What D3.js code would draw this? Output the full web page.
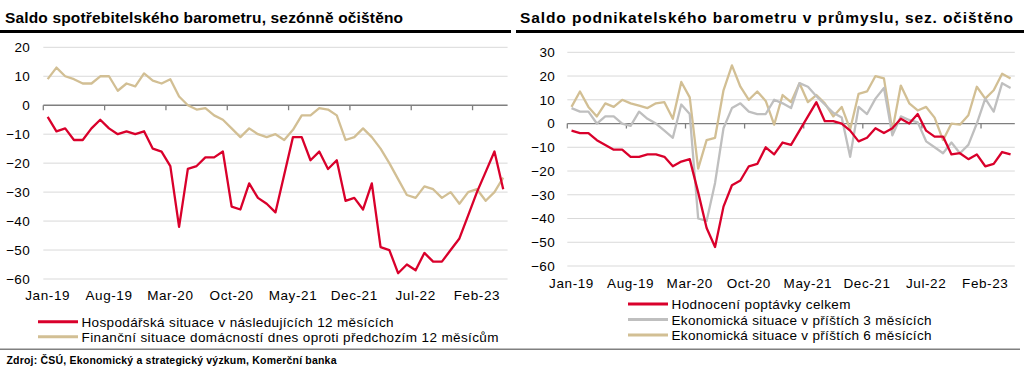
<!DOCTYPE html>
<html><head><meta charset="utf-8">
<script src="https://cdn.jsdelivr.net/npm/d3@7"></script>
<style>
body{margin:0;background:#fff}
svg{display:block}
text{font-family:"Liberation Sans",Arial,sans-serif;fill:#000}
</style>
</head><body>
<svg id="c" width="1024" height="375"></svg>
<script>
const months = ["2019-01","2019-02","2019-03","2019-04","2019-05","2019-06","2019-07","2019-08","2019-09","2019-10","2019-11","2019-12",
"2020-01","2020-02","2020-03","2020-04","2020-05","2020-06","2020-07","2020-08","2020-09","2020-10","2020-11","2020-12",
"2021-01","2021-02","2021-03","2021-04","2021-05","2021-06","2021-07","2021-08","2021-09","2021-10","2021-11","2021-12",
"2022-01","2022-02","2022-03","2022-04","2022-05","2022-06","2022-07","2022-08","2022-09","2022-10","2022-11","2022-12",
"2023-01","2023-02","2023-03","2023-04","2023-05"];
const tickMonths = ["2019-01","2019-08","2020-03","2020-10","2021-05","2021-12","2022-07","2023-02"];
const tickLabels = ["Jan-19","Aug-19","Mar-20","Oct-20","May-21","Dec-21","Jul-22","Feb-23"];

// Consumer barometer
const consEcon = [-4,-9,-8,-12,-12,-8,-5,-8,-10,-9,-10,-9,-15,-16,-21,-42,-22,-21,-18,-18,-16,-35,-36,-27,-32,-34,-37,-24,-11,-11,-19,-16,-22,-19,-33,-32,-36,-27,-49,-50,-58,-55,-57,-51,-54,-54,-50,-46,-38,-30,-23,-16,-29];
const consFin = [9,13,10,9,7.5,7.5,10,10,5,7.5,6.5,11,8.5,7.5,9,3,0,-1.5,-1,-3.5,-5,-8,-11,-8,-10,-11,-10,-12,-8.5,-3.5,-3.5,-1,-1.5,-3.5,-12,-11,-8,-11,-15,-20,-25.5,-31,-32,-28,-29,-32,-30,-34,-30,-29,-33,-30,-25];
const consNames = ["Hospodářská situace v následujících 12 měsících","Finanční situace domácností dnes oproti předchozím 12 měsícům"];
const consTicks = [20,10,0,-10,-20,-30,-40,-50,-60];

// Industry barometer
const indDemand = [-3,-4,-4,-7,-9,-11,-11,-14,-14,-13,-13,-14,-18,-16,-15,-29,-44,-52,-35,-26,-24,-18,-17,-10,-13,-8,-9,-3,3,9,1,1,0,-3,-7.5,-6,-2,-4,-2,2,0,4,-3,-5.5,-5.5,-13,-12.5,-15,-13,-18,-17,-12,-13];
const indEcon3 = [6.5,5,5,0,3,3,0,-1,5,2,0,-3,-6,8,4,-40,-41,-25,-2,6.5,8.5,5,4,4,10,8.5,6.5,17,15.5,11.5,8,4.5,2.5,-14,7,4,10.5,15,-5,3,1.5,0.5,-7.5,-10,-12.5,-8,-12.5,-9,0,10.5,5,17,15];
const indEcon6 = [7,13.5,7,3,8.5,7,10,8.5,7.5,6.5,8.5,9,2,17.5,11,-19,-7,-6,14,24.5,15.5,10,13.5,9.5,-0.5,12,9,17,9,12,8.5,3,7,-2.5,12.5,13.5,20,19,-3,16,8.5,5.5,7,2.5,-7,0,-0.5,3.5,15.5,10.5,14,21,19];
const indNames = ["Hodnocení poptávky celkem","Ekonomická situace v příštích 3 měsících","Ekonomická situace v příštích 6 měsících"];
const indTicks = [30,20,10,0,-10,-20,-30,-40,-50,-60];

const RED = "#d9002b", TAN = "#d2bf94", GRAY = "#bfbfbf";
const svg = d3.select("#c");

function panel(cfg){
  const g = svg.append("g");
  const x = d3.scaleBand().domain(months).range(cfg.xr).padding(0);
  const y = d3.scaleLinear().domain([d3.min(cfg.ticks), d3.max(cfg.ticks)]).range(cfg.yr);
  const bw = x.bandwidth();
  g.selectAll("line.grid").data(cfg.ticks.filter(t=>t!==0)).join("line")
    .attr("x1", cfg.xr[0]).attr("x2", cfg.xr[1])
    .attr("y1", d=>y(d)).attr("y2", d=>y(d))
    .attr("stroke", "#d9d9d9").attr("stroke-width", 1);
  const ya = d3.axisLeft(y).tickValues(cfg.ticks).tickSize(0).tickPadding(0).tickFormat(d3.format("d"));
  const yg = g.append("g").attr("transform", `translate(${cfg.ylab},0)`).call(ya);
  yg.select(".domain").remove();
  yg.selectAll("text").attr("font-size", 13.5).attr("letter-spacing", 0.3)
    .attr("font-family", "Liberation Sans, Arial, sans-serif").attr("fill","#000");
  const y0 = y(0);
  g.append("line").attr("x1", cfg.xr[0]).attr("x2", cfg.xr[1]).attr("y1", y0).attr("y2", y0)
    .attr("stroke", "#7f7f7f").attr("stroke-width", 1.3);
  g.selectAll("line.tk").data(tickMonths).join("line")
    .attr("x1", d=>x(d)).attr("x2", d=>x(d)).attr("y1", y0).attr("y2", y0+5)
    .attr("stroke", "#7f7f7f").attr("stroke-width", 1.3);
  g.selectAll("text.xl").data(tickMonths).join("text")
    .attr("x", d=>x(d)+bw/2).attr("y", cfg.xlabY)
    .attr("text-anchor", "middle").attr("font-size", 13.5).attr("letter-spacing", 0.6)
    .text((d,i)=>tickLabels[i]);
  const line = d3.line().x((d,i)=>x(months[i])+bw/2).y(d=>y(d));
  cfg.series.forEach(s=>{
    g.append("path").attr("d", line(s.values)).attr("fill","none")
      .attr("stroke", s.color).attr("stroke-width", 2.3).attr("stroke-linejoin","round");
  });
  cfg.series.slice().sort((a,b)=>a.order-b.order).forEach((s,i)=>{
    const ly = cfg.legY + i*cfg.legStep;
    g.append("line").attr("x1", cfg.legX).attr("x2", cfg.legX+40).attr("y1", ly).attr("y2", ly)
      .attr("stroke", s.color).attr("stroke-width", 3);
    g.append("text").attr("x", cfg.legX+43.5).attr("y", ly+5).attr("font-size", 13.5)
      .attr("textLength", s.len).attr("lengthAdjust","spacing").text(s.name);
  });
  g.append("text").attr("x", cfg.titleX).attr("y", 23).attr("font-size", 15.5).attr("font-weight","bold")
    .attr("textLength", cfg.titleLen).attr("lengthAdjust","spacing").text(cfg.title);
  g.append("rect").attr("x", cfg.ruleX[0]).attr("y", 30).attr("width", cfg.ruleX[1]-cfg.ruleX[0]).attr("height", 3).attr("fill","#000");
}

panel({
  xr:[43.3,507.6], yr:[279,47.3], ticks:consTicks, ylab:30, xlabY:300,
  series:[{values:consFin,color:TAN,name:consNames[1],order:1,len:417},{values:consEcon,color:RED,name:consNames[0],order:0,len:312}],
  legX:38, legY:321.7, legStep:15,
  title:"Saldo spotřebitelského barometru, sezónně očištěno", titleX:5, titleLen:398, ruleX:[0,511]
});
panel({
  xr:[567.3,1014.8], yr:[266,52.3], ticks:indTicks, ylab:555, xlabY:288,
  series:[{values:indEcon6,color:TAN,name:indNames[2],order:2,len:260},{values:indEcon3,color:GRAY,name:indNames[1],order:1,len:260},{values:indDemand,color:RED,name:indNames[0],order:0,len:179}],
  legX:628, legY:304, legStep:15.5,
  title:"Saldo podnikatelského barometru v průmyslu, sez. očištěno", titleX:520, titleLen:493, ruleX:[516,1024]
});
svg.append("rect").attr("x",0).attr("y",348.5).attr("width",1020).attr("height",1.5).attr("fill","#808080");
svg.append("text").attr("x",6.5).attr("y",364).attr("font-size",10.5).attr("font-weight","bold")
  .attr("textLength",330).attr("lengthAdjust","spacing").text("Zdroj: ČSÚ, Ekonomický a strategický výzkum, Komerční banka");
</script>
</body></html>
